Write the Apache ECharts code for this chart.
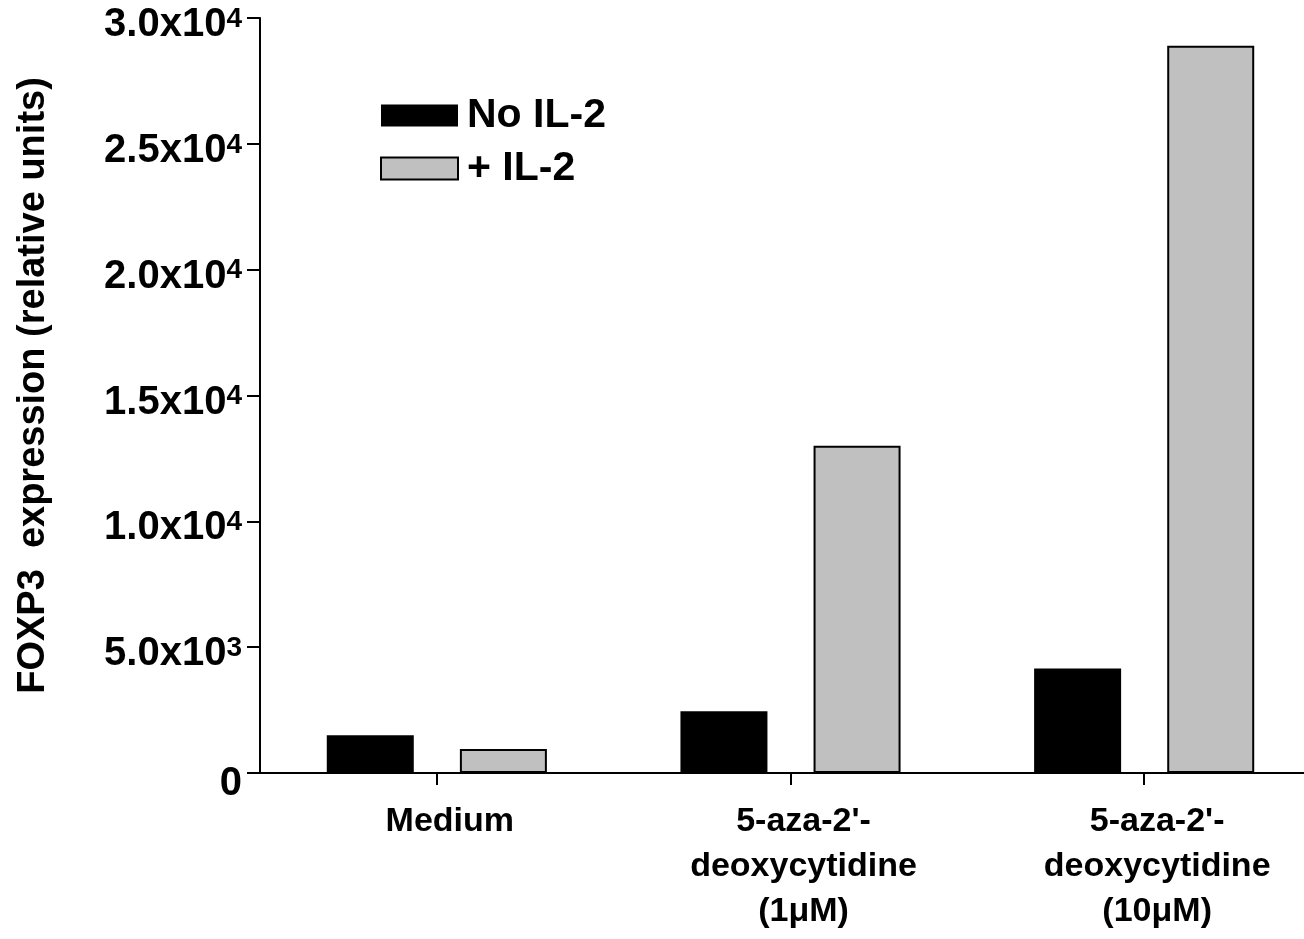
<!DOCTYPE html>
<html>
<head>
<meta charset="utf-8">
<script src="https://cdn.jsdelivr.net/npm/echarts@6/dist/echarts.min.js"></script>
<style>
  html, body { margin: 0; padding: 0; background: #fff; }
  #chart { width: 1304px; height: 939px; }
</style>
</head>
<body>
<div id="chart"></div>
<script>
// Treatment groups on the x axis
const categories = ['Medium', "5-aza-2'-\ndeoxycytidine\n(1μM)", "5-aza-2'-\ndeoxycytidine\n(10μM)"];
// FOXP3 expression (relative units) per group
const noIL2 = [1500, 2450, 4150];
const plusIL2 = [950, 13000, 28900];
// y-axis ticks and their labels (mantissa ^ exponent)
const yTickValues = [0, 5000, 10000, 15000, 20000, 25000, 30000];
const yTickLabels = ['0', '5.0x10^3', '1.0x10^4', '1.5x10^4', '2.0x10^4', '2.5x10^4', '3.0x10^4'];

const FONT = '"Liberation Sans", Arial, Helvetica, sans-serif';
const chart = echarts.init(document.getElementById('chart'), null, { renderer: 'canvas' });

chart.setOption({
  animation: false,
  backgroundColor: '#ffffff',
  textStyle: { fontFamily: FONT },
  grid: {
    left: 260, right: -17, top: 18, bottom: 166,
    containLabel: false,
    outerBoundsMode: 'none'
  },
  legend: {
    orient: 'vertical',
    left: 375,
    top: 88,
    itemWidth: 77,
    itemHeight: 22,
    itemGap: 8,
    icon: 'rect',
    textStyle: {
      fontFamily: FONT, fontSize: 41, fontWeight: 'bold', color: '#000',
      lineHeight: 45, padding: [0, 0, 0, 4]
    },
    data: ['No IL-2', '+ IL-2']
  },
  xAxis: {
    type: 'category',
    data: categories,
    boundaryGap: true,
    axisLine: { show: true, lineStyle: { color: '#000', width: 2 } },
    axisTick: { show: true, alignWithLabel: true, length: 12, lineStyle: { color: '#000', width: 2 } },
    axisLabel: {
      interval: 0, margin: 26, color: '#000',
      padding: [0, 0, 0, 26],
      fontFamily: FONT, fontSize: 34, fontWeight: 'bold', lineHeight: 45
    },
    splitLine: { show: false }
  },
  yAxis: {
    type: 'value',
    min: 0, max: 30000, interval: 5000,
    name: '{b|FOXP3  expression (relative units)}',
    nameLocation: 'middle',
    nameRotate: 90,
    nameGap: 207,
    nameTextStyle: {
      padding: [0, 0, 0, 20],
      rich: {
        b: { fontFamily: FONT, fontSize: 38, fontWeight: 'bold', color: '#000' }
      }
    },
    axisLine: { show: true, lineStyle: { color: '#000', width: 2 } },
    axisTick: { show: true, length: 13, lineStyle: { color: '#000', width: 2 } },
    splitLine: { show: false },
    axisLabel: {
      margin: 18,
      padding: [14, 0, 0, 0],
      formatter: function (v) {
        const i = yTickValues.indexOf(v);
        const s = i >= 0 ? yTickLabels[i] : String(v);
        if (s.indexOf('^') < 0) return '{z|' + s + '}';
        const parts = s.split('^');
        return '{m|' + parts[0] + '}{s|' + parts[1] + '}';
      },
      rich: {
        m: { fontFamily: FONT, fontSize: 40, fontWeight: 'bold', color: '#000', lineHeight: 40 },
        s: { fontFamily: FONT, fontSize: 28, fontWeight: 'bold', color: '#000', lineHeight: 26, verticalAlign: 'top' },
        z: { fontFamily: FONT, fontSize: 40, fontWeight: 'bold', color: '#000', lineHeight: 40, padding: [8, 0, 0, 0] }
      }
    }
  },
  series: [
    {
      name: 'No IL-2',
      type: 'bar',
      data: noIL2,
      barWidth: 87,
      barGap: '53%',
      itemStyle: { color: '#000000', borderColor: '#000000', borderWidth: 0 }
    },
    {
      name: '+ IL-2',
      type: 'bar',
      data: plusIL2,
      barWidth: 87,
      barGap: '53%',
      itemStyle: { color: '#c0c0c0', borderColor: '#000000', borderWidth: 2 }
    }
  ]
});
</script>
</body>
</html>
